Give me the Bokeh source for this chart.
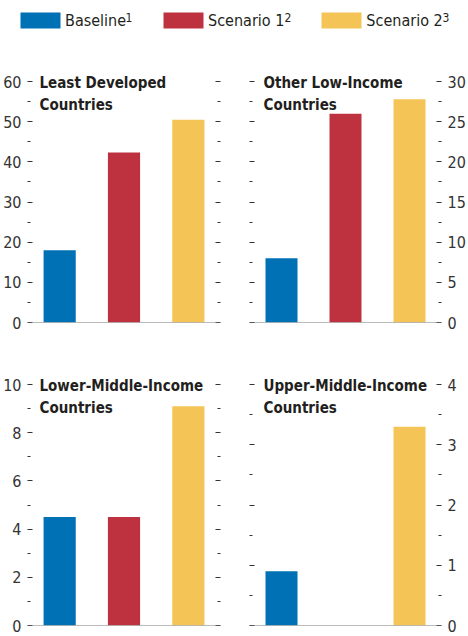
from bokeh.plotting import figure
from bokeh.layouts import column, row
from bokeh.models import (FactorRange, Range1d, FixedTicker, LinearAxis, Span, Label,
                          Legend, LegendItem, CustomJSTickFormatter, ColumnDataSource)
from bokeh.embed import file_html
from bokeh.resources import INLINE

categories = ["Baseline", "Scenario 1", "Scenario 2"]
legend_labels = ["Baseline", "Scenario 1", "Scenario 2"]
legend_notes = ["1", "2", "3"]
colors = ["#0071B5", "#BE3240", "#F5C456"]

least_developed = [18.0, 42.3, 50.5]
other_low_income = [8.0, 26.0, 27.8]
lower_middle_income = [4.5, 4.5, 9.1]
upper_middle_income = [0.9, 0.0, 3.3]

ld_ticks = [0, 10, 20, 30, 40, 50, 60]
oli_ticks = [0, 5, 10, 15, 20, 25, 30]
lmi_ticks = [0, 2, 4, 6, 8, 10]
umi_ticks = [0, 1, 2, 3, 4]

FONT = "'DejaVu Sans Condensed', Roboto, sans-serif"
TEXT = "#231f20"
TICK = "#333333"


def panel(title_lines, values, ticks, labels_side, top):
    if top:
        frame_h, tick_px, mbt, mbb = 253, 241, 21, 21
    else:
        frame_h, tick_px, mbt, mbb = 253, 241, 29, 11
    y_end = ticks[-1] * frame_h / tick_px
    step = ticks[1] - ticks[0]
    minor = [t + step / 2 for t in ticks[:-1]]
    if labels_side == "left":
        mbl, mbr, fw, tx = 27, 14, 193, 12
    else:
        mbl, mbr, fw, tx = 15, 27, 192, 14
    p = figure(x_range=FactorRange(*categories), y_range=Range1d(0, y_end),
               frame_width=fw, frame_height=frame_h,
               min_border_left=mbl, min_border_right=mbr,
               min_border_top=mbt, min_border_bottom=mbb,
               output_backend="svg", toolbar_location=None,
               x_axis_location=None, y_axis_location=None,
               outline_line_color=None, background_fill_color="white",
               border_fill_color="white")
    p.grid.visible = False
    src = ColumnDataSource(dict(cat=categories, val=values, color=colors))
    p.vbar(x="cat", top="val", width=0.5, fill_color="color", line_color=None, source=src)
    p.add_layout(Span(location=0, dimension="width", line_color="#7a7a7a", line_width=1))
    for side in ("left", "right"):
        ax = LinearAxis(ticker=FixedTicker(ticks=ticks, minor_ticks=minor),
                        axis_line_color=None,
                        major_tick_in=5, major_tick_out=0,
                        minor_tick_in=3, minor_tick_out=0,
                        major_tick_line_color=TICK, minor_tick_line_color=TICK,
                        major_label_standoff=6,
                        major_label_text_font=FONT,
                        major_label_text_font_size="16px",
                        major_label_text_color=TICK)
        if side != labels_side:
            ax.formatter = CustomJSTickFormatter(code="return ''")
        p.add_layout(ax, side)
    ty = frame_h - 13
    for i, line in enumerate(title_lines):
        p.add_layout(Label(x=tx, y=ty - 22 * i, x_units="screen", y_units="screen",
                           text=line, text_font=FONT, text_font_style="bold",
                           text_font_size="15px", text_color=TEXT,
                           text_baseline="alphabetic"))
    return p


p1 = panel(["Least Developed", "Countries"], least_developed, ld_ticks, "left", True)
p2 = panel(["Other Low-Income", "Countries"], other_low_income, oli_ticks, "right", True)
p3 = panel(["Lower-Middle-Income", "Countries"], lower_middle_income, lmi_ticks, "left", False)
p4 = panel(["Upper-Middle-Income", "Countries"], upper_middle_income, umi_ticks, "right", False)

LG_H = 48
lg = figure(width=468, height=LG_H, x_range=Range1d(0, 1), y_range=Range1d(0, 1),
            output_backend="svg", toolbar_location=None,
            x_axis_location=None, y_axis_location=None,
            outline_line_color=None, min_border=0)
lg.grid.visible = False
items = []
for lab, col in zip(legend_labels, colors):
    r = lg.vbar(x=[10], top=[10], width=0.5, fill_color=col, line_color=None)
    items.append(LegendItem(label=lab, renderers=[r]))
legend = Legend(items=items, orientation="horizontal", location=(15, LG_H - 30),
                glyph_width=50, glyph_height=20, label_height=20, label_width=0,
                label_standoff=0, spacing=32, padding=0, margin=0,
                border_line_color=None, background_fill_alpha=0,
                label_text_font=FONT, label_text_font_size="16px",
                label_text_color=TEXT)
lg.add_layout(legend)
# superscript note markers after each legend label
for note, sx in zip(legend_notes, [125, 284, 442]):
    lg.add_layout(Label(x=sx, y=LG_H - 17, x_units="screen", y_units="screen",
                        text=note, text_font=FONT, text_font_size="12px",
                        text_color=TEXT, text_baseline="alphabetic"))

layout = column(lg, row(p1, p2), row(p3, p4))

with open("out.html", "w") as f:
    f.write(file_html(layout, INLINE))
